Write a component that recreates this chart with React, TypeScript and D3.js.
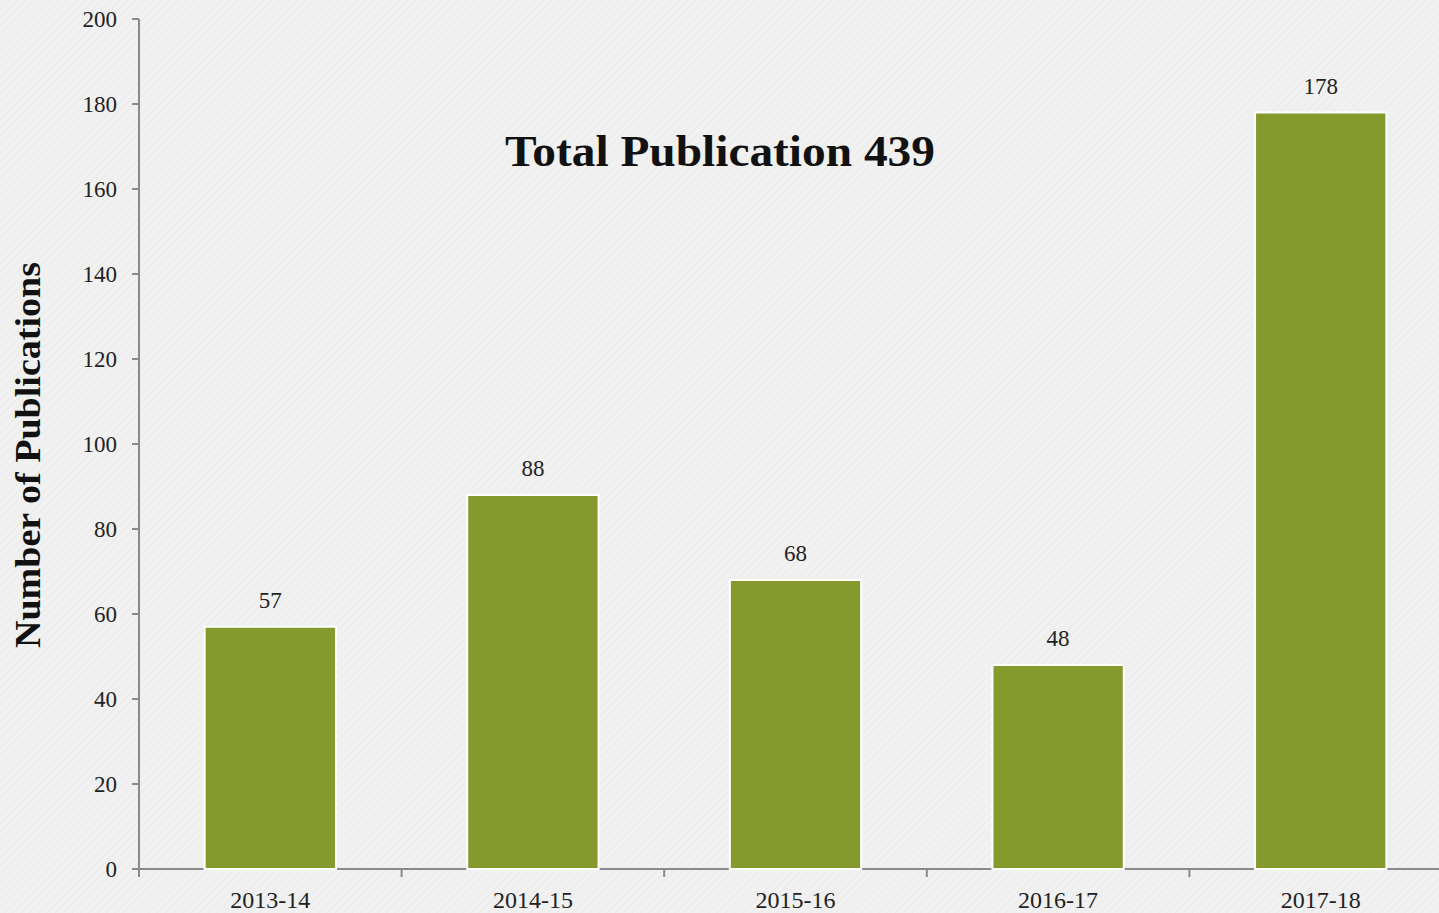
import React from "react";
import * as d3 from "d3";

const categories = ["2013-14", "2014-15", "2015-16", "2016-17", "2017-18"];
const values = [57, 88, 68, 48, 178];
const yTicks = [0, 20, 40, 60, 80, 100, 120, 140, 160, 180, 200];
const title = "Total Publication 439";
const yTitle = "Number of Publications";

export default function App() {
  const W = 1439, H = 913;
  const left = 139, top = 19, bottom = 869;
  const x = d3.scaleBand<string>().domain(categories).range([left, left + 1313]).paddingInner(0.5).paddingOuter(0.25);
  const y = d3.scaleLinear().domain([0, 200]).range([bottom, top]);
  const step = x.step();
  const bw = x.bandwidth();
  const font = "'Liberation Serif', 'Times New Roman', serif";
  const axisColor = "#8a8a8a";
  return (
    <svg width={W} height={H} style={{ position: "absolute", left: 0, top: 0 }} fontFamily={font}>
      <defs>
        <pattern id="tex" width="6" height="6" patternUnits="userSpaceOnUse" patternTransform="rotate(45)">
          <rect width="6" height="6" fill="#f1f1f1" />
          <line x1="0" y1="0" x2="0" y2="6" stroke="#ebebeb" strokeWidth="2" />
        </pattern>
      </defs>
      <rect width={W} height={H} fill="url(#tex)" />
      {/* y axis */}
      <line x1={left} x2={left} y1={top} y2={bottom} stroke={axisColor} strokeWidth={2} />
      {yTicks.map((t) => (
        <g key={t}>
          <line x1={left - 7} x2={left} y1={y(t)} y2={y(t)} stroke={axisColor} strokeWidth={2} />
          <text x={117} y={y(t) + 8} textAnchor="end" fontSize={23} fill="#222">{t}</text>
        </g>
      ))}
      {/* x axis */}
      <line x1={left - 7} x2={W} y1={bottom} y2={bottom} stroke={axisColor} strokeWidth={2} />
      {categories.map((c, i) => {
        const bx = (x(c) as number) - (step - bw) / 2;
        return <line key={"t" + i} x1={bx} x2={bx} y1={bottom} y2={bottom + 8} stroke={axisColor} strokeWidth={2} />;
      })}
      {categories.map((c, i) => (
        <g key={c}>
          <rect x={x(c)} y={y(values[i])} width={bw} height={bottom - y(values[i])} fill="#849a2d" stroke="#ffffff" strokeWidth={2} />
          <text x={(x(c) as number) + bw / 2} y={y(values[i]) - 19} textAnchor="middle" fontSize={23} fill="#222">{values[i]}</text>
          <text x={(x(c) as number) + bw / 2} y={908} textAnchor="middle" fontSize={24} fill="#222">{c}</text>
        </g>
      ))}
      <text x={505} y={166} fontSize={44} fontWeight="bold" fill="#111" textLength={430} lengthAdjust="spacingAndGlyphs">{title}</text>
      <text transform={`translate(40,648) rotate(-90)`} fontSize={36} fontWeight="bold" fill="#111" textLength={386} lengthAdjust="spacingAndGlyphs">{yTitle}</text>
    </svg>
  );
}
